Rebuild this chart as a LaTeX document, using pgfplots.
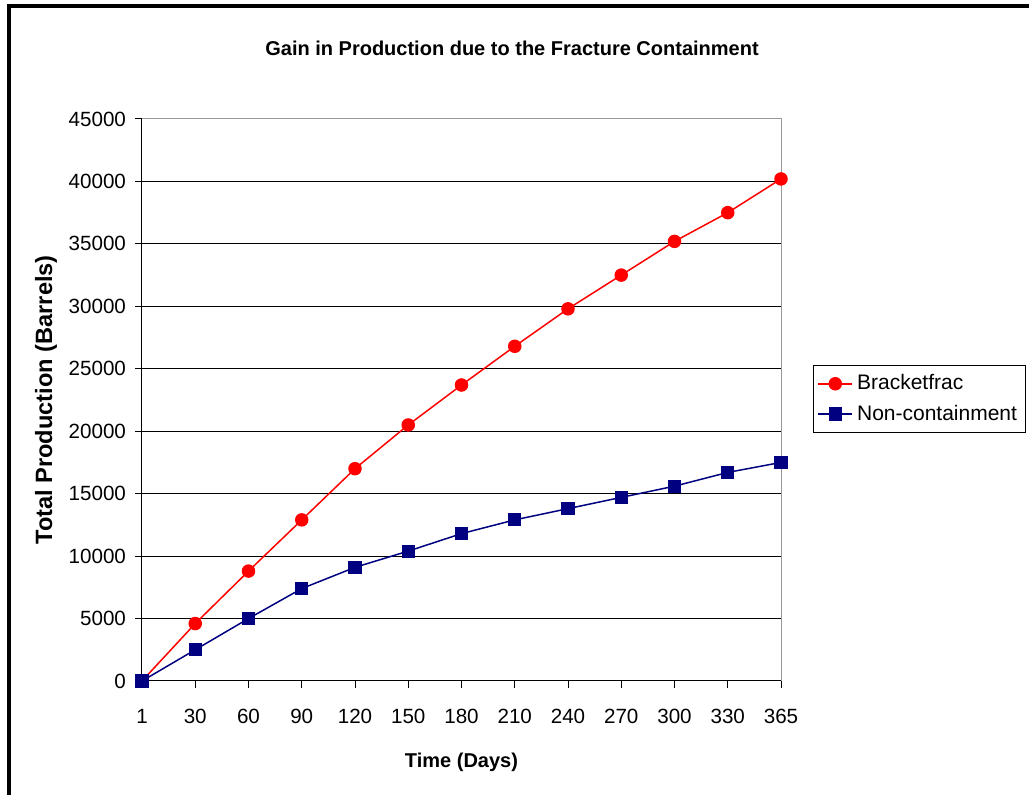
\documentclass[border=0pt]{standalone}
\usepackage{pgfplots}
\pgfplotsset{compat=1.18}
\usepackage{fontspec}
\setmainfont{Liberation Sans}
\definecolor{navyc}{RGB}{0,0,128}
\definecolor{redc}{RGB}{255,0,0}
\begin{document}
\begin{tikzpicture}
\path[use as bounding box] (0,0) rectangle (514.5pt,397.5pt);
\fill[black] (3.5pt,0) rectangle (5.5pt,395.5pt);
\fill[black] (3.5pt,393.5pt) rectangle (514.5pt,395.5pt);
\node[font=\bfseries\fontsize{10}{12}\selectfont] at (256pt,373.5pt) {Gain in Production due to the Fracture Containment};
\begin{axis}[
  at={(71pt,57pt)}, anchor=south west,
  scale only axis, width=319.5pt, height=281pt,
  xmin=0, xmax=12, ymin=0, ymax=45000,
  xtick={0,...,12},
  xticklabels={1,30,60,90,120,150,180,210,240,270,300,330,365},
  ytick={0,5000,...,45000},
  scaled y ticks=false,
  /pgf/number format/assume math mode=true,
  /pgf/number format/1000 sep={},
  ymajorgrids, major grid style={black, line width=0.5pt},
  tick style={black, line width=0.5pt},
  tick align=outside, major tick length=3.5pt,
  xtick pos=bottom, ytick pos=left,
  axis line style={line width=0.5pt},
  separate axis lines,
  x axis line style={black},
  y axis line style={black},
  axis x line*=bottom, axis y line*=left,
  tick label style={font=\fontsize{10.3}{12}\selectfont},
  xticklabel style={yshift=-7pt},
  yticklabel style={xshift=-1pt},
  xlabel={Time (Days)}, ylabel={Total Production (Barrels)},
  xlabel style={font=\bfseries\fontsize{10}{12}\selectfont, yshift=-8pt},
  ylabel style={font=\bfseries\fontsize{11.8}{14}\selectfont, yshift=-1pt},
  legend style={at={(1.05,0.562)}, anchor=north west, draw=black, line width=0.5pt,
    font=\fontsize{10.5}{12.5}\selectfont, row sep=2pt, inner xsep=2pt, inner ysep=2.5pt},
  legend cell align=left,
  clip=false,
]
\draw[gray!80, line width=0.5pt] (axis cs:0,45000) -- (axis cs:12,45000) -- (axis cs:12,0);
\addplot[color=redc, line width=0.75pt, mark=*, mark size=3pt, mark options={fill=redc, draw=redc}]
coordinates {(0,0) (1,4600) (2,8800) (3,12900) (4,17000) (5,20500) (6,23700) (7,26800) (8,29800) (9,32500) (10,35200) (11,37500) (12,40200)};
\addlegendentry{Bracketfrac}
\addplot[color=navyc, line width=0.75pt, mark=square*, mark size=2.9pt, mark options={fill=navyc, draw=navyc}]
coordinates {(0,0) (1,2500) (2,5000) (3,7400) (4,9100) (5,10400) (6,11800) (7,12900) (8,13800) (9,14700) (10,15600) (11,16700) (12,17500)};
\addlegendentry{Non-containment}
\end{axis}
\end{tikzpicture}
\end{document}
